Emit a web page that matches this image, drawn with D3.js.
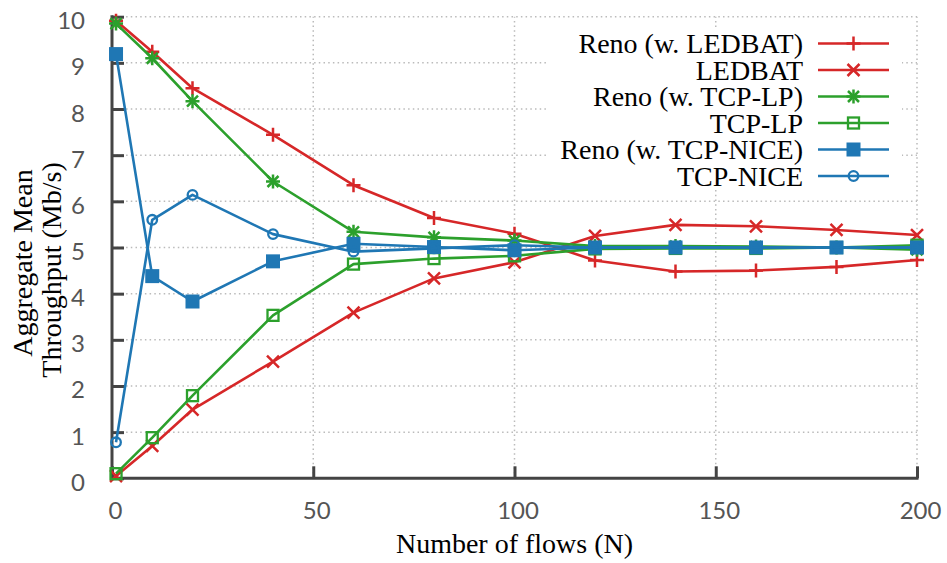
<!DOCTYPE html>
<html>
<head>
<meta charset="utf-8">
<script src="https://cdn.jsdelivr.net/npm/d3@7"></script>
<style>
  html, body { margin: 0; padding: 0; background: #fff; }
  svg { display: block; }
</style>
</head>
<body>
<svg id="chart" width="947" height="563"></svg>
<script>
// ---- data ----
const flows = [1, 10, 20, 40, 60, 80, 100, 120, 140, 160, 180, 200];
const renoLedbat = [9.91, 9.24, 8.45, 7.44, 6.35, 5.64, 5.30, 4.72, 4.48, 4.50, 4.58, 4.73];
const ledbat     = [0.05, 0.70, 1.49, 2.53, 3.59, 4.33, 4.68, 5.25, 5.49, 5.46, 5.38, 5.27];
const renoLp     = [9.85, 9.10, 8.17, 6.43, 5.34, 5.22, 5.15, 5.03, 5.03, 5.02, 5.00, 4.95];
const tcpLp      = [0.10, 0.88, 1.79, 3.53, 4.64, 4.76, 4.82, 4.97, 4.98, 4.98, 5.00, 5.05];
const renoNice   = [9.19, 4.38, 3.83, 4.70, 5.08, 5.01, 4.94, 5.00, 5.00, 5.00, 5.00, 5.00];
const tcpNice    = [0.78, 5.60, 6.14, 5.29, 4.91, 4.98, 5.05, 5.00, 5.00, 5.00, 5.00, 5.00];
const seriesNames = ["Reno (w. LEDBAT)", "LEDBAT", "Reno (w. TCP-LP)", "TCP-LP", "Reno (w. TCP-NICE)", "TCP-NICE"];
const xTicks = [0, 50, 100, 150, 200];
const yTicks = [0, 1, 2, 3, 4, 5, 6, 7, 8, 9, 10];
const xTitle = "Number of flows (N)";
const yTitle = ["Aggregate Mean", "Throughput (Mb/s)"];

// ---- styles ----
const RED = "#d62728", GREEN = "#2ca02c", BLUE = "#1f77b4";
const series = [
  { name: seriesNames[0], values: renoLedbat, color: RED,   marker: "plus" },
  { name: seriesNames[1], values: ledbat,     color: RED,   marker: "cross" },
  { name: seriesNames[2], values: renoLp,     color: GREEN, marker: "star" },
  { name: seriesNames[3], values: tcpLp,      color: GREEN, marker: "square" },
  { name: seriesNames[4], values: renoNice,   color: BLUE,  marker: "filledSquare" },
  { name: seriesNames[5], values: tcpNice,    color: BLUE,  marker: "circle" },
];

const svg = d3.select("#chart");
const L = 112, R = 917, T = 16.7, B = 478.3;
const x = d3.scaleLinear().domain([0, 200]).range([L, R]);
const y = d3.scaleLinear().domain([0, 10]).range([B, T]);

const AXIS = "#444";
const GRID = "#bbbbbb";

// grid
const grid = svg.append("g");
grid.selectAll("line.gx").data(xTicks.filter(d => d > 0)).enter().append("line")
  .attr("x1", d => x(d)).attr("x2", d => x(d)).attr("y1", B).attr("y2", T)
  .attr("stroke", GRID).attr("stroke-width", 1.5).attr("stroke-dasharray", "1.5,3.2");
grid.selectAll("line.gy").data(yTicks.filter(d => d > 0)).enter().append("line")
  .attr("x1", L).attr("x2", R).attr("y1", d => y(d)).attr("y2", d => y(d))
  .attr("stroke", GRID).attr("stroke-width", 1.5).attr("stroke-dasharray", "1.5,3.2");

// axes
const xAxis = d3.axisBottom(x).tickValues(xTicks).tickSizeInner(-12).tickSizeOuter(0).tickPadding(24);
const yAxis = d3.axisLeft(y).tickValues(yTicks).tickSizeInner(-12).tickSizeOuter(0).tickPadding(27);
const gx = svg.append("g").attr("transform", `translate(0,${B})`).call(xAxis);
const gy = svg.append("g").attr("transform", `translate(${L},0)`).call(yAxis);
[gx, gy].forEach(g => {
  g.select(".domain").attr("stroke", AXIS).attr("stroke-width", 3);
  g.selectAll(".tick line").attr("stroke", AXIS).attr("stroke-width", 3);
  g.selectAll(".tick text").attr("fill", "#555").style("font-family", "Lato, 'DejaVu Sans', sans-serif").style("font-size", "24px");
});
gx.selectAll(".tick text").attr("dx", 3);
gy.selectAll(".tick text").attr("dy", "0.5em");
gx.select(".domain").attr("d", `M${L - 1.5},0H${R + 1.5}`);
gy.select(".domain").attr("d", `M0,${B + 1.5}V${T - 1.5}`);

// marker drawing
function drawMarker(g, type, cx, cy, color) {
  const s = 7;
  if (type === "plus" || type === "star") {
    g.append("path").attr("d", `M${cx - s},${cy}H${cx + s}M${cx},${cy - s}V${cy + s}`)
      .attr("stroke", color).attr("stroke-width", 2.5).attr("fill", "none");
  }
  if (type === "cross" || type === "star") {
    const c = type === "star" ? 5.5 : 6;
    g.append("path").attr("d", `M${cx - c},${cy - c}L${cx + c},${cy + c}M${cx - c},${cy + c}L${cx + c},${cy - c}`)
      .attr("stroke", color).attr("stroke-width", 2.5).attr("fill", "none");
  }
  if (type === "square") {
    g.append("rect").attr("x", cx - 5.5).attr("y", cy - 5.5).attr("width", 11).attr("height", 11)
      .attr("stroke", color).attr("stroke-width", 2.3).attr("fill", "none");
  }
  if (type === "filledSquare") {
    g.append("rect").attr("x", cx - 7).attr("y", cy - 7).attr("width", 14).attr("height", 14)
      .attr("fill", color);
  }
  if (type === "circle") {
    g.append("circle").attr("cx", cx).attr("cy", cy).attr("r", 4.8)
      .attr("stroke", color).attr("stroke-width", 2.3).attr("fill", "none");
  }
}

// series
const line = d3.line().x(d => x(d[0])).y(d => y(d[1]));
series.forEach(s => {
  const pts = flows.map((f, i) => [f, s.values[i]]);
  const g = svg.append("g");
  g.append("path").datum(pts).attr("d", line).attr("fill", "none")
    .attr("stroke", s.color).attr("stroke-width", 2.6).attr("stroke-linejoin", "round");
  pts.forEach(p => drawMarker(g, s.marker, x(p[0]), y(p[1]), s.color));
});

// legend
const lg = svg.append("g");
lg.append("rect").attr("x", 548).attr("y", 30).attr("width", 354).attr("height", 160).attr("fill", "#fff");
series.forEach((s, i) => {
  const cy = 43.5 + i * 26.5;
  lg.append("text").attr("x", 803).attr("y", cy + 9.5).attr("text-anchor", "end")
    .style("font-family", "'Liberation Serif', 'Times New Roman', serif").style("font-size", "28px")
    .attr("fill", "#000").text(s.name);
  lg.append("line").attr("x1", 818).attr("x2", 889).attr("y1", cy).attr("y2", cy)
    .attr("stroke", s.color).attr("stroke-width", 2.6);
  drawMarker(lg, s.marker, 853.5, cy, s.color);
});

// titles
svg.append("text").attr("x", (L + R) / 2).attr("y", 553).attr("text-anchor", "middle")
  .style("font-family", "'Liberation Serif', 'Times New Roman', serif").style("font-size", "28px")
  .attr("fill", "#000").text(xTitle);
[[32, 263], [61, 270]].forEach((pos, i) => {
  svg.append("text").attr("transform", `translate(${pos[0]},${pos[1]}) rotate(-90)`)
    .attr("text-anchor", "middle")
    .style("font-family", "'Liberation Serif', 'Times New Roman', serif").style("font-size", "28px")
    .attr("fill", "#000").text(yTitle[i]);
});
</script>
</body>
</html>
